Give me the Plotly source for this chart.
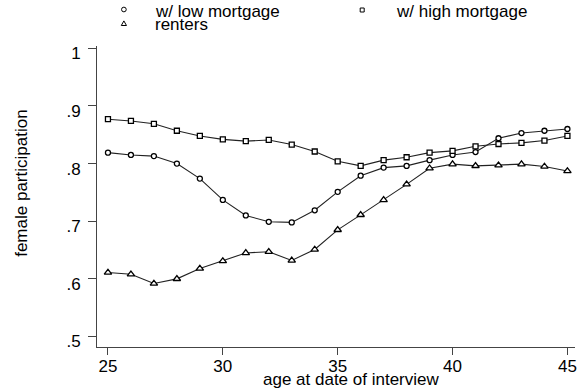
import plotly.graph_objects as go

# ---- data ----
ages = list(range(25, 46))
low_mortgage = [0.819, 0.815, 0.813, 0.800, 0.774, 0.737, 0.710, 0.699, 0.698, 0.719,
                0.751, 0.779, 0.793, 0.796, 0.806, 0.815, 0.820, 0.844, 0.853, 0.857, 0.860]
high_mortgage = [0.877, 0.874, 0.869, 0.857, 0.848, 0.842, 0.839, 0.841, 0.833, 0.821,
                 0.804, 0.796, 0.806, 0.811, 0.819, 0.822, 0.830, 0.834, 0.836, 0.840, 0.848]
renters = [0.611, 0.608, 0.592, 0.600, 0.618, 0.631, 0.645, 0.647, 0.632, 0.651,
           0.685, 0.711, 0.737, 0.764, 0.792, 0.799, 0.796, 0.797, 0.799, 0.795, 0.787]
x_ticks = [25, 30, 35, 40, 45]
y_ticks = [0.5, 0.6, 0.7, 0.8, 0.9, 1.0]
y_tick_labels = [".5", ".6", ".7", ".8", ".9", "1"]
series_names = ["w/ low mortgage", "w/ high mortgage", "renters"]

# ---- layout geometry ----
W, H = 577, 389
ML, MR, MT, MB = 97, 0, 46, 42
PW, PH = W - ML - MR, H - MT - MB


def px(xp):
    return (xp - ML) / PW


def py(yp):
    return (H - MB - yp) / PH


FONT = "Liberation Sans, Arial, Helvetica, sans-serif"
LINE = "#222222"
AX = "#444444"

fig = go.Figure()
specs = [
    (low_mortgage, "circle", 5.0),
    (high_mortgage, "square", 5.0),
    (renters, "triangle-up", 6.5),
]
for (vals, sym, size), name in zip(specs, series_names):
    fig.add_trace(go.Scatter(
        x=ages, y=vals, name=name, mode="lines+markers",
        line=dict(color=LINE, width=1.1),
        marker=dict(symbol=sym, size=size, color="white",
                    line=dict(color="black", width=1.3)),
        showlegend=False, cliponaxis=False,
    ))

# ---- manual legend (Stata style) ----
shapes = []
r = 2.35
shapes.append(dict(type="circle", xref="paper", yref="paper",
                   xsizemode="pixel", ysizemode="pixel",
                   xanchor=px(124), yanchor=py(9.5),
                   x0=-r, x1=r, y0=-r, y1=r,
                   line=dict(color="black", width=1)))
s = 2.0
shapes.append(dict(type="rect", xref="paper", yref="paper",
                   xsizemode="pixel", ysizemode="pixel",
                   xanchor=px(363.3), yanchor=py(10),
                   x0=-s, x1=s, y0=-s, y1=s,
                   line=dict(color="black", width=1)))
shapes.append(dict(type="path", xref="paper", yref="paper",
                   xsizemode="pixel", ysizemode="pixel",
                   xanchor=px(124), yanchor=py(23.5),
                   path="M-2.6,-2 L2.6,-2 L0,2.6 Z",
                   line=dict(color="black", width=1)))

annotations = [
    dict(text=series_names[0], x=px(153.5), y=py(11.4), xanchor="left", yanchor="middle"),
    dict(text=series_names[1], x=px(395.2), y=py(11.4), xanchor="left", yanchor="middle"),
    dict(text=series_names[2], x=px(153.5), y=py(24.8), xanchor="left", yanchor="middle"),
    dict(text="age at date of interview", x=px(353), y=py(379),
         xanchor="center", yanchor="middle"),
    dict(text="female participation", x=px(20.5), y=py(183), textangle=-90,
         xanchor="center", yanchor="middle"),
]
for a in annotations:
    a.update(xref="paper", yref="paper", showarrow=False,
             font=dict(family=FONT, size=17, color="black"))

fig.update_layout(
    width=W, height=H, autosize=False,
    margin=dict(l=ML, r=MR, t=MT, b=MB, pad=0),
    plot_bgcolor="white", paper_bgcolor="white",
    font=dict(family=FONT, size=17, color="black"),
    showlegend=False,
    shapes=shapes, annotations=annotations,
    xaxis=dict(range=[24.523, 45.33], tickmode="array", tickvals=x_ticks,
               showline=True, linecolor=AX, linewidth=1,
               ticks="outside", ticklen=7, tickcolor=AX, tickwidth=1,
               showgrid=False, zeroline=False,
               ticklabeloverflow="allow", ticklabelstandoff=-3,
               tickfont=dict(family=FONT, size=17, color="black")),
    yaxis=dict(range=[0.4818, 1.004], tickmode="array", tickvals=y_ticks,
               ticktext=y_tick_labels,
               showline=True, linecolor=AX, linewidth=1,
               ticks="outside", ticklen=8, tickcolor=AX, tickwidth=1,
               showgrid=False, zeroline=False, ticklabelshift=5,
               ticklabelstandoff=4,
               tickfont=dict(family=FONT, size=17, color="black")),
)

fig.write_html("out.html")
